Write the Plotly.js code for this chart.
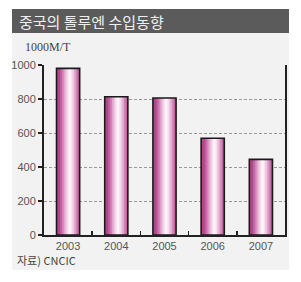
<!DOCTYPE html>
<html><head><meta charset="utf-8">
<script src="https://cdn.plot.ly/plotly-3.0.1.min.js"></script>
<style>html,body{margin:0;padding:0;background:#fff;}#chart{width:301px;height:282px;}</style>
</head><body><div id="chart"></div>
<script>
const years = ['2003','2004','2005','2006','2007'];
const imports = [980, 813, 806, 569, 445];
const yTicks = [0, 200, 400, 600, 800, 1000];
const titleText = '중국의 톨루엔 수입동향';
const unitText = '1000M/T';
const sourceText = '자료) CNCIC';

// gradient layers (style only)
const layerWidths = [0.48, 0.40, 0.32, 0.25, 0.18, 0.11, 0.05];
const layerColors = ['#b0468c', '#c262a1', '#d283b7', '#e2a6cd', '#eec6e1', '#f7e1ef', '#fdf3f9'];
const shift = 0.035;

const traces = [];
layerWidths.forEach((w, i) => {
  const c = i === 0 ? 0 : shift;
  traces.push({
    type: 'bar', x: years, y: imports,
    width: years.map(() => w),
    offset: years.map(() => c - w / 2),
    marker: {color: layerColors[i], line: {width: 0}},
    hoverinfo: 'skip', showlegend: false
  });
});
traces.push({
  type: 'bar', x: years, y: imports,
  width: years.map(() => 0.48),
  offset: years.map(() => -0.24),
  marker: {color: 'rgba(0,0,0,0)', line: {width: 1.6, color: '#1a1a1a'}},
  hoverinfo: 'skip', showlegend: false
});

const PW = 241, PH = 170;
const layout = {
  width: 301, height: 282,
  margin: {l: 44, r: 16, t: 65, b: 47, pad: 0},
  paper_bgcolor: '#ffffff',
  plot_bgcolor: 'rgba(0,0,0,0)',
  barmode: 'overlay',
  showlegend: false,
  font: {family: 'Liberation Sans, sans-serif', color: '#555'},
  xaxis: {
    type: 'category', range: [-0.5, 4.5],
    showline: true, linecolor: '#222', linewidth: 2,
    ticks: 'inside', tickson: 'boundaries', ticklen: 4, tickwidth: 1.5, tickcolor: '#222',
    showgrid: false, tickfont: {size: 11, color: '#555'}, fixedrange: true
  },
  yaxis: {
    range: [0, 1000], tickvals: yTicks, ticktext: yTicks.map(String),
    showline: true, linecolor: '#222', linewidth: 2, mirror: true,
    ticks: 'outside', ticklen: 4, tickwidth: 1.5, tickcolor: '#222',
    showgrid: true, gridcolor: '#9a9a9a', griddash: '3px,2px', gridwidth: 1,
    zeroline: false, tickfont: {size: 11, color: '#555'}, fixedrange: true
  },
  shapes: [
    {type: 'rect', xref: 'paper', yref: 'paper', layer: 'below',
     x0: -32/PW, x1: 245/PW, y0: -35/PH, y1: 1 + 32/PH,
     fillcolor: '#f2f2f2', line: {width: 0}},
    {type: 'rect', xref: 'paper', yref: 'paper', layer: 'below',
     x0: -32/PW, x1: 245/PW, y0: 1 + 32/PH, y1: 1 + 56/PH,
     fillcolor: '#5b5b5b', line: {width: 0}}
  ],
  annotations: [
    {text: titleText, xref: 'paper', yref: 'paper', x: -27/PW, y: 1 + 44/PH,
     xanchor: 'left', yanchor: 'middle', showarrow: false,
     font: {family: 'Noto Sans CJK KR', size: 15, color: '#f0f0f0'}},
    {text: unitText, xref: 'paper', yref: 'paper', x: -21/PW, y: 1 + 18/PH,
     xanchor: 'left', yanchor: 'middle', showarrow: false,
     font: {family: 'Liberation Serif', size: 12, color: '#444'}},
    {text: sourceText, xref: 'paper', yref: 'paper', x: -29/PW, y: -25/PH,
     xanchor: 'left', yanchor: 'middle', showarrow: false,
     font: {family: 'Noto Sans CJK KR, Liberation Serif', size: 11, color: '#444'}}
  ]
};

Plotly.newPlot('chart', traces, layout, {staticPlot: true, displayModeBar: false});
</script></body></html>
